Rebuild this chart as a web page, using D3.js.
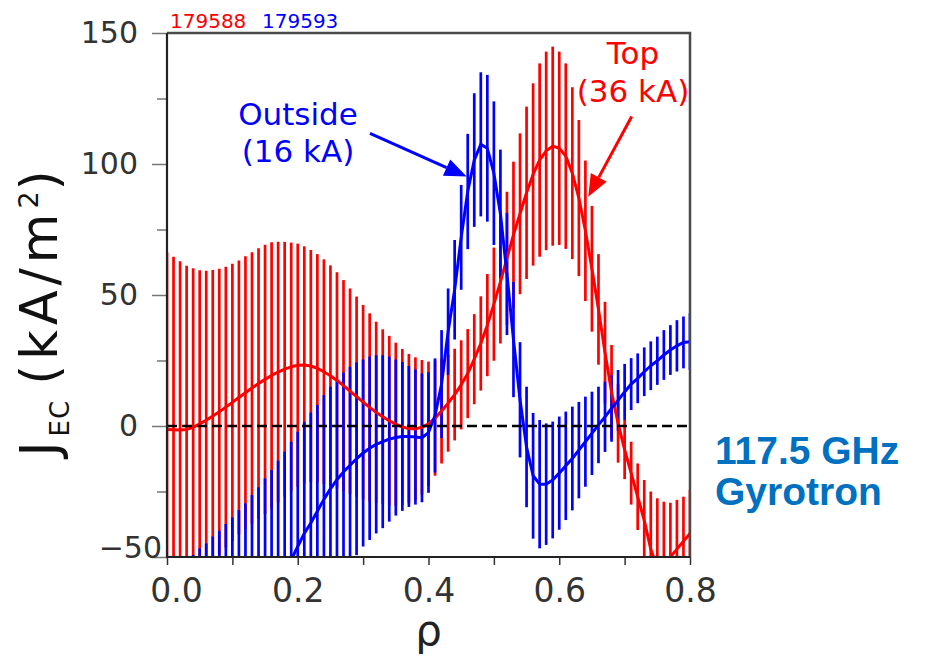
<!DOCTYPE html>
<html>
<head>
<meta charset="utf-8">
<script src="https://cdn.jsdelivr.net/npm/d3@7/dist/d3.min.js"></script>
<style>
  html, body { margin: 0; padding: 0; background: #fff; }
  svg { display: block; }
  text { font-family: "DejaVu Sans", sans-serif; }
</style>
</head>
<body>
<div id="chart"></div>
<script>
// Normalised radius grid shared by both shots
const rho = [
  0.00,0.01,0.02,0.03,0.04,0.05,0.06,0.07,0.08,0.09,
  0.10,0.11,0.12,0.13,0.14,0.15,0.16,0.17,0.18,0.19,
  0.20,0.21,0.22,0.23,0.24,0.25,0.26,0.27,0.28,0.29,
  0.30,0.31,0.32,0.33,0.34,0.35,0.36,0.37,0.38,0.39,
  0.40,0.41,0.42,0.43,0.44,0.45,0.46,0.47,0.48,0.49,
  0.50,0.51,0.52,0.53,0.54,0.55,0.56,0.57,0.58,0.59,
  0.60,0.61,0.62,0.63,0.64,0.65,0.66,0.67,0.68,0.69,
  0.70,0.71,0.72,0.73,0.74,0.75,0.76,0.77,0.78,0.79,
  0.80
];

// Shot 179588 (top launch): J_EC profile and its uncertainty, kA/m^2
const topJ = [
  -1.3,-1.4,-1.5,-1.3,-0.5,0.8,2.2,3.8,5.4,7.2,
  9.0,10.9,12.7,14.5,16.2,17.8,19.3,20.6,21.7,22.6,
  23.2,23.3,22.9,22.0,20.7,19.2,17.4,15.4,13.3,11.2,
  9.1,7.1,5.2,3.5,2.0,0.7,-0.4,-1.0,-1.1,-0.5,
  0.8,3.0,5.7,8.7,12.0,15.7,20.0,25.5,31.5,38.5,
  46.5,55.0,64.0,73.0,81.0,89.0,96.0,101.5,105.0,106.8,
  106.0,103.0,96.5,87.0,74.5,60.0,44.5,28.0,13.0,1.0,
  -9.0,-18.0,-27.0,-36.0,-47.0,-54.0,-55.0,-50.0,-47.0,-44.0,
  -41.0
];
const topErr = [
  67.4,66.0,64.4,62.5,60.7,58.6,57.1,55.7,54.6,53.6,
  52.9,52.3,52.1,51.8,51.6,51.4,50.8,49.7,48.6,47.4,
  46.4,45.3,44.3,43.6,42.9,42.1,41.3,40.3,39.2,38.2,
  37.1,35.9,34.6,33.4,32.4,31.1,29.8,28.5,27.3,25.7,
  23.8,22.0,20.0,18.5,17.5,17.0,17.0,17.2,18.0,19.5,
  21.6,23.5,25.4,27.9,30.7,32.9,34.8,36.9,37.9,38.0,
  36.9,35.4,32.8,29.8,26.8,24.0,21.1,19.4,17.9,15.0,
  11.3,12.0,12.7,15.4,22.0,26.4,26.1,20.7,18.8,17.0,
  16.6
];

// Shot 179593 (outside launch)
const outJ = [
  -108,-106,-103.5,-100.7,-98.2,-95.4,-93.3,-90.4,-88,-85.1,
  -82.4,-79.3,-76.5,-73,-69.9,-66.2,-62.8,-58.9,-55.3,-51,
  -46,-41,-37,-32.5,-28,-24,-20.5,-17.5,-15,-12.5,
  -10.3,-8.5,-7,-6,-5,-4.4,-4,-4,-4.2,-4.5,
  -2.5,4,16,36,52,72,89.5,101.5,107.5,106,
  96.5,81,58,33,10,-8,-19,-22.2,-22.2,-20.6,
  -18,-15.2,-12.4,-9.2,-6,-2.8,0.4,3.5,6.7,9.8,
  13,16,18.2,20.7,23,24.9,27.1,29,30.6,31.9,
  32.2
];
const outErr = [
  50,49.8,49.5,49.2,49,48.7,48.5,48.2,48,47.7,
  47.5,47.2,47,46.7,46.5,46.2,46,45.7,45.5,45,
  43.8,42.6,42.1,40.5,39.8,39,38.1,37.9,37.6,36.8,
  35.7,35,34,33,31.5,29.8,28.4,26.9,25.8,24.6,
  23,21.8,20.6,16.5,19,20,22,25.5,27.5,28,
  27.4,24.5,23.3,22,22,23,24,24.5,23.2,22.3,
  21.6,20.7,19.8,18.4,17.2,15.9,14.6,13.4,12.7,11.6,
  10.7,9.9,9.5,9.3,9.3,9.2,9.5,9.5,9.8,9.9,
  10.8
];

const shotLabels = ["179588", "179593"];
const yTicks = [-50, -25, 0, 25, 50, 75, 100, 125, 150];
const yLabelTicks = [-50, 0, 50, 100, 150];
const xTicks = [0, 0.1, 0.2, 0.3, 0.4, 0.5, 0.6, 0.7, 0.8];
const xLabelTicks = [0, 0.2, 0.4, 0.6, 0.8];

// Annotations in data coordinates: [rho, J]
const outsideNote = { lines: ["Outside", "(16 kA)"], at: [0.2004, 115.0], from: [0.3105, 111.7], to: [0.4584, 95.2] };
const topNote = { lines: ["Top", "(36 kA)"], at: [0.7128, 138.0], from: [0.7108, 118.1], to: [0.6444, 87.5] };

const RED = "#ff0000", BLUE = "#0000ff";
const W = 930, H = 656;
const plot = { left: 167, right: 690, top: 33, bottom: 557 };

const svg = d3.select("#chart").append("svg").attr("width", W).attr("height", H);

const x = d3.scaleLinear().domain([0, 0.8]).range([plot.left, plot.right]);
const y = d3.scaleLinear().domain([-50, 150]).range([plot.bottom, plot.top]);

svg.append("defs").append("clipPath").attr("id", "plotClip")
  .append("rect")
  .attr("x", plot.left).attr("y", plot.top)
  .attr("width", plot.right - plot.left).attr("height", plot.bottom - plot.top);

const g = svg.append("g").attr("clip-path", "url(#plotClip)");

function errorBars(values, errs, color) {
  g.append("g").selectAll("line")
    .data(rho.map((r, i) => ({ r, v: values[i], e: errs[i] })))
    .join("line")
    .attr("x1", d => x(d.r)).attr("x2", d => x(d.r))
    .attr("y1", d => y(d.v - d.e)).attr("y2", d => y(d.v + d.e))
    .attr("stroke", color).attr("stroke-width", 2.7);
}
function profile(values, color) {
  g.append("path")
    .datum(rho.map((r, i) => [r, values[i]]))
    .attr("fill", "none").attr("stroke", color).attr("stroke-width", 3)
    .attr("stroke-linejoin", "round")
    .attr("d", d3.line().x(d => x(d[0])).y(d => y(d[1])));
}

errorBars(topJ, topErr, RED);
errorBars(outJ, outErr, BLUE);
profile(topJ, RED);
profile(outJ, BLUE);

// zero reference
g.append("line")
  .attr("x1", x(0)).attr("x2", x(0.8)).attr("y1", y(0)).attr("y2", y(0))
  .attr("stroke", "#000").attr("stroke-width", 2.6).attr("stroke-dasharray", "10,5");

// frame
svg.append("path")
  .attr("d", `M${plot.left},${plot.top}H${plot.right}V${plot.bottom}`)
  .attr("fill", "none").attr("stroke", "#4a4a4a").attr("stroke-width", 2.5);

// y axis
const yAxis = d3.axisLeft(y).tickValues(yTicks)
  .tickSizeInner(0).tickSizeOuter(0).tickPadding(29)
  .tickFormat(d => yLabelTicks.includes(d) ? d3.format("")(d).replace("-", "\u2212") : "");
const ya = svg.append("g").attr("transform", `translate(${plot.left},0)`).call(yAxis);
ya.select(".domain").remove();
ya.selectAll(".tick line")
  .attr("x2", d => yLabelTicks.includes(d) ? -15 : -10)
  .attr("stroke", "#777").attr("stroke-width", 1.5);
ya.selectAll(".tick text")
  .attr("fill", "#333").style("font-size", "30px").style("font-family", "DejaVu Sans");
ya.selectAll(".tick").filter(d => d === -50).select("text")
  .attr("x", -5).attr("dy", "0");

// x axis
const xAxis = d3.axisBottom(x).tickValues(xTicks).tickSizeInner(8).tickSizeOuter(0)
  .tickFormat(d => xLabelTicks.some(v => Math.abs(v - d) < 1e-9) ? d3.format(".1f")(d) : "");
const xa = svg.append("g").attr("transform", `translate(0,${plot.bottom})`).call(xAxis);
xa.select(".domain").remove();
xa.selectAll(".tick line").attr("stroke", "#333").attr("stroke-width", 1.5);
xa.selectAll(".tick text")
  .attr("fill", "#333").style("font-size", "33px").style("font-family", "DejaVu Sans")
  .attr("y", 45).attr("dy", "0");
xa.selectAll(".tick").filter(d => d === 0).select("text").attr("x", 9);

// left and bottom spines
svg.append("path")
  .attr("d", `M${plot.left},${plot.top}V${plot.bottom}H${plot.right}`)
  .attr("fill", "none").attr("stroke", "#222").attr("stroke-width", 2.2);

// axis titles
svg.append("text")
  .attr("x", x(0.4)).attr("y", 645)
  .attr("text-anchor", "middle").attr("fill", "#222")
  .style("font-size", "42px").text("\u03c1");

const yt = svg.append("text")
  .attr("transform", "translate(57,311) rotate(-90)")
  .attr("text-anchor", "middle").attr("fill", "#111")
  .style("font-size", "51px").style("letter-spacing", "5px");
yt.append("tspan").text("J");
yt.append("tspan").attr("dy", 12).style("font-size", "26px").style("letter-spacing", "1px").text("EC");
yt.append("tspan").attr("dy", -12).text("\u2009(kA/m");
yt.append("tspan").attr("dy", -19).style("font-size", "27px").style("letter-spacing", "1px").text("2");
yt.append("tspan").attr("dy", 19).text(")");

// shot numbers
svg.append("text").attr("x", 170).attr("y", 28).attr("fill", RED)
  .style("font-size", "20px").text(shotLabels[0]);
svg.append("text").attr("x", 262).attr("y", 28).attr("fill", BLUE)
  .style("font-size", "20px").text(shotLabels[1]);

// annotations with arrows
function note(n, color) {
  const t = svg.append("text").attr("text-anchor", "middle").attr("fill", color)
    .style("font-size", "31px");
  n.lines.forEach((s, i) => {
    t.append("tspan").attr("x", x(n.at[0])).attr("y", y(n.at[1]) + i * 37.5).text(s);
  });
  const x1 = x(n.from[0]), y1 = y(n.from[1]), x2 = x(n.to[0]), y2 = y(n.to[1]);
  const a = Math.atan2(y2 - y1, x2 - x1), L = 22, hw = 9;
  const bx = x2 - L * Math.cos(a), by = y2 - L * Math.sin(a);
  svg.append("line").attr("x1", x1).attr("y1", y1).attr("x2", bx).attr("y2", by)
    .attr("stroke", color).attr("stroke-width", 3);
  svg.append("polygon")
    .attr("points", [
      [x2, y2],
      [bx + hw * Math.sin(a), by - hw * Math.cos(a)],
      [bx - hw * Math.sin(a), by + hw * Math.cos(a)]
    ].map(p => p.join(",")).join(" "))
    .attr("fill", color);
}
note(outsideNote, BLUE);
note(topNote, RED);

// gyrotron label
const srcStyle = s => s.attr("fill", "#0070c0")
  .style("font-family", "Liberation Sans, Arial, sans-serif")
  .style("font-weight", "bold").style("font-size", "39px");
svg.append("text").attr("x", 715).attr("y", 464).call(srcStyle).text("117.5 GHz");
svg.append("text").attr("x", 715).attr("y", 505).call(srcStyle).text("Gyrotron");
</script>
</body>
</html>
